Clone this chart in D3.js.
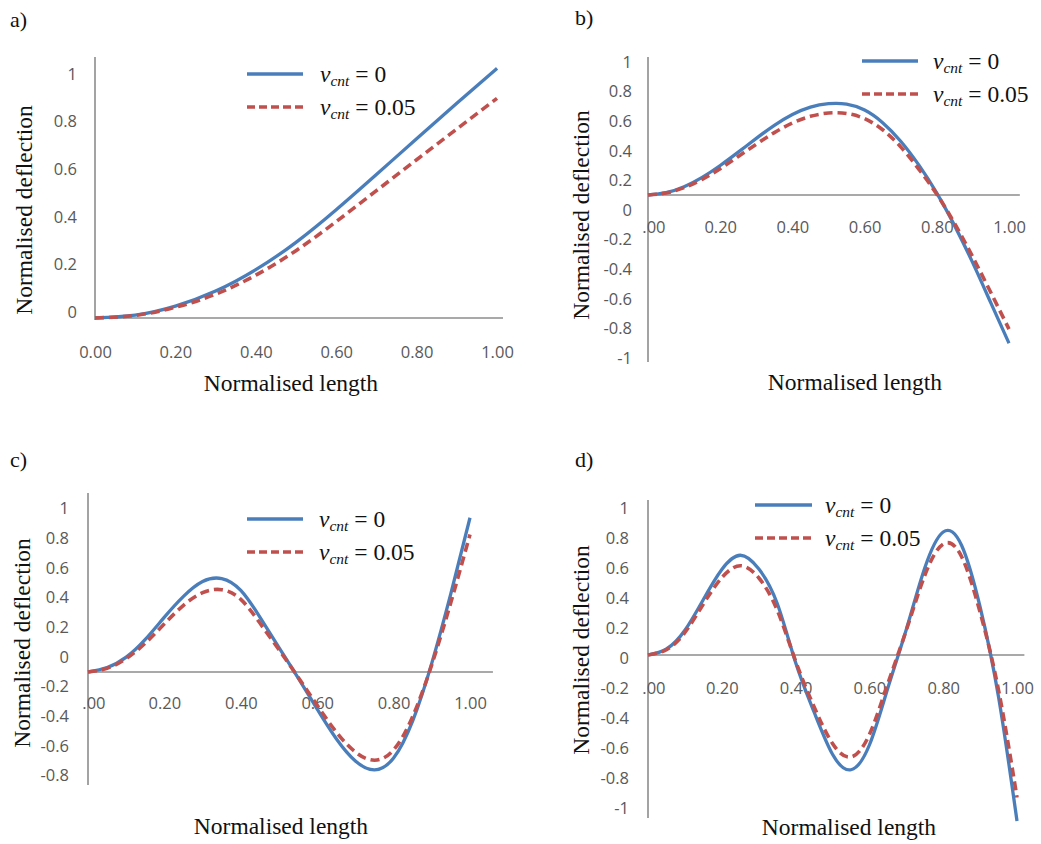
<!DOCTYPE html>
<html><head><meta charset="utf-8">
<script src="https://cdn.jsdelivr.net/npm/d3@7/dist/d3.min.js"></script>
<style>body{margin:0;background:#fff}svg{display:block}</style>
</head><body>
<svg id="chart" width="1041" height="844"></svg>
<script>
// ---------------- data ----------------
const xTicks = [0, 0.2, 0.4, 0.6, 0.8, 1.0];
const yTicksA = [0, 0.2, 0.4, 0.6, 0.8, 1];
const yTicksB = [-1, -0.8, -0.6, -0.4, -0.2, 0, 0.2, 0.4, 0.6, 0.8, 1];
const yTicksC = [-0.8, -0.6, -0.4, -0.2, 0, 0.2, 0.4, 0.6, 0.8, 1];
const yTicksD = [-1, -0.8, -0.6, -0.4, -0.2, 0, 0.2, 0.4, 0.6, 0.8, 1];

const legendSymbol = "v";
const legendSub = "cnt";
const legendValues = ["0", "0.05"];
const xTitle = "Normalised length";
const yTitle = "Normalised deflection";
const panelLabels = ["a)", "b)", "c)", "d)"];

const xA = [0, 0.1, 0.2, 0.3, 0.4, 0.5, 0.6, 0.7, 0.8, 0.9, 1.0];
const blueA = [0, 0.012, 0.05, 0.113, 0.203, 0.318, 0.455, 0.603, 0.753, 0.902, 1.049];
const redA  = [0, 0.011, 0.045, 0.1, 0.18, 0.283, 0.405, 0.535, 0.665, 0.794, 0.923];

const xFine = [0, 0.05, 0.1, 0.15, 0.2, 0.25, 0.3, 0.35, 0.4, 0.45, 0.5, 0.55, 0.6, 0.65, 0.7, 0.75, 0.8, 0.85, 0.9, 0.95, 1.0];
const blueB = [0, 0.016, 0.056, 0.119, 0.199, 0.289, 0.382, 0.47, 0.543, 0.593, 0.616, 0.613, 0.573, 0.488, 0.363, 0.203, 0.013, -0.21, -0.46, -0.73, -1.0];
const redB  = [0, 0.014, 0.05, 0.106, 0.178, 0.26, 0.343, 0.421, 0.486, 0.531, 0.553, 0.55, 0.515, 0.44, 0.325, 0.175, 0.005, -0.195, -0.42, -0.66, -0.905];
const blueC = [0, 0.03, 0.10, 0.22, 0.37, 0.51, 0.61, 0.63, 0.55, 0.37, 0.165, -0.04, -0.25, -0.45, -0.60, -0.66, -0.58, -0.33, 0.06, 0.53, 1.04];
const redC  = [0, 0.025, 0.09, 0.195, 0.325, 0.45, 0.535, 0.555, 0.49, 0.33, 0.15, -0.035, -0.225, -0.405, -0.54, -0.595, -0.525, -0.30, 0.05, 0.47, 0.927];
const blueD = [0, 0.04, 0.165, 0.37, 0.57, 0.665, 0.575, 0.345, -0.05, -0.38, -0.662, -0.765, -0.60, -0.22, 0.17, 0.58, 0.82, 0.73, 0.32, -0.28, -1.107];
const redD  = [0, 0.035, 0.15, 0.34, 0.515, 0.595, 0.515, 0.30, -0.04, -0.345, -0.59, -0.68, -0.53, -0.19, 0.165, 0.53, 0.74, 0.655, 0.285, -0.235, -0.95];

// ---------------- layout ----------------
const COLORS = ["#4a7ebb", "#c0504d"];
const SERIF = "'Liberation Serif','Times New Roman',serif";
const SANS = "'Open Sans','Noto Sans',sans-serif";

const panels = [
  { label: panelLabels[0], lab: [10, 27], xs: xA, blue: blueA, red: redA, yTicks: yTicksA,
    xr: [95, 497], zeroY: 318, ppu: 238, yExt: [-0.008, 1.097], xEnd: 1.015,
    yShift: -6, yPad: 18, xLabY: 352, firstDot: false,
    yTitle: [32, 210], xTitleP: [291, 391], leg: [247, 303, 74, 107, 320] },
  { label: panelLabels[1], lab: [575, 25], xs: xFine, blue: blueB, red: redB, yTicks: yTicksB,
    xr: [648, 1009], zeroY: 195, ppu: 148.2, yExt: [-1.127, 0.931], xEnd: 1.03,
    yShift: 15, yPad: 16, xLabY: 227, firstDot: true,
    yTitle: [589, 215], xTitleP: [855, 390], leg: [862, 918, 61, 94, 933] },
  { label: panelLabels[2], lab: [10, 467], xs: xFine, blue: blueC, red: redC, yTicks: yTicksC,
    xr: [88, 470], zeroY: 672, ppu: 148.3, yExt: [-0.762, 1.207], xEnd: 1.06,
    yShift: -15, yPad: 19, xLabY: 703, firstDot: true,
    yTitle: [30, 643], xTitleP: [281, 834], leg: [247, 303, 519, 552, 319] },
  { label: panelLabels[3], lab: [575, 467], xs: xFine, blue: blueD, red: redD, yTicks: yTicksD,
    xr: [648, 1017], zeroY: 655, ppu: 150, yExt: [-1.087, 1.033], xEnd: 1.02,
    yShift: 3, yPad: 19, xLabY: 688, firstDot: true,
    yTitle: [589, 650], xTitleP: [849, 835], leg: [755, 812, 505, 538, 825] }
];

const svg = d3.select("#chart");

panels.forEach(p => {
  const g = svg.append("g");
  const x = d3.scaleLinear().domain([0, 1]).range(p.xr);
  const y = d3.scaleLinear().domain([0, 1]).range([p.zeroY, p.zeroY - p.ppu]);

  g.append("text").attr("x", p.lab[0]).attr("y", p.lab[1])
    .attr("font-family", SERIF).attr("font-size", 22).attr("fill", "#111").text(p.label);

  g.append("line").attr("x1", x(0)).attr("x2", x(0))
    .attr("y1", y(p.yExt[0])).attr("y2", y(p.yExt[1]))
    .attr("stroke", "#8c8c8c").attr("stroke-width", 1.6);
  g.append("line").attr("x1", x(0)).attr("x2", x(p.xEnd))
    .attr("y1", y(0)).attr("y2", y(0))
    .attr("stroke", "#8c8c8c").attr("stroke-width", 1.6);

  const gy = g.append("g").attr("transform", `translate(${x(0)},${p.yShift})`)
    .call(d3.axisLeft(y).tickValues(p.yTicks).tickSize(0).tickPadding(p.yPad)
      .tickFormat(d => String(d)));
  gy.select(".domain").remove();
  gy.attr("font-family", SANS).attr("font-size", 16.5);
  gy.selectAll("text").attr("fill", "#595959");

  const gx = g.append("g").attr("transform", `translate(0,${p.xLabY})`)
    .call(d3.axisBottom(x).tickValues(xTicks).tickSize(0).tickPadding(0)
      .tickFormat(d => (p.firstDot && d === 0) ? ".00" : d.toFixed(2)));
  gx.select(".domain").remove();
  gx.attr("font-family", SANS).attr("font-size", 16.5);
  gx.selectAll("text").attr("fill", "#595959").attr("dy", "0.35em");
  if (p.firstDot) {
    gx.selectAll(".tick").filter(d => d === 0).select("text")
      .attr("text-anchor", "end").attr("x", 17);
  }

  g.append("text").attr("transform", `translate(${p.yTitle[0]},${p.yTitle[1]}) rotate(-90)`)
    .attr("text-anchor", "middle").attr("font-family", SERIF).attr("font-size", 23.5)
    .attr("fill", "#111").text(yTitle);
  g.append("text").attr("x", p.xTitleP[0]).attr("y", p.xTitleP[1])
    .attr("text-anchor", "middle").attr("font-family", SERIF).attr("font-size", 23.5)
    .attr("fill", "#111").text(xTitle);

  const line = d3.line().x(d => x(d[0])).y(d => y(d[1])).curve(d3.curveNatural);
  [p.blue, p.red].forEach((vals, i) => {
    const pts = p.xs.map((xv, k) => [xv, vals[k]]);
    g.append("path").datum(pts).attr("d", line).attr("fill", "none")
      .attr("stroke", COLORS[i]).attr("stroke-width", i === 0 ? 3.3 : 3.6)
      .attr("stroke-dasharray", i === 0 ? null : "9,5")
      .attr("stroke-linejoin", "round");
  });

  const ly = [p.leg[2], p.leg[3]];
  legendValues.forEach((v, i) => {
    g.append("line").attr("x1", p.leg[0]).attr("x2", p.leg[1]).attr("y1", ly[i]).attr("y2", ly[i])
      .attr("stroke", COLORS[i]).attr("stroke-width", i === 0 ? 3.3 : 3.6)
      .attr("stroke-dasharray", i === 0 ? null : "8,4");
    const t = g.append("text").attr("x", p.leg[4]).attr("y", ly[i] + 8)
      .attr("font-family", SERIF).attr("font-size", 23.5).attr("fill", "#111");
    t.append("tspan").attr("font-style", "italic").text(legendSymbol);
    t.append("tspan").attr("font-style", "italic").attr("font-size", 15.5).attr("dy", 4).text(legendSub);
    t.append("tspan").attr("dy", -4).text(" = " + v);
  });
});
</script>
</body></html>
